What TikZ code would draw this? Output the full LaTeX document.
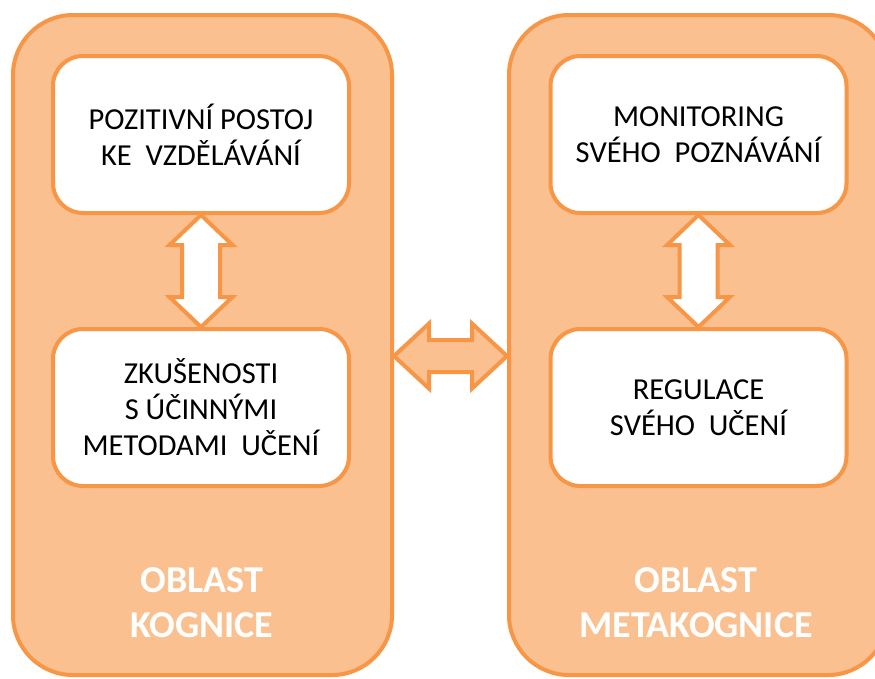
\documentclass[tikz,border=0pt]{standalone}
\usepackage{fontspec}
\setmainfont{Carlito}
\usetikzlibrary{calc}
\definecolor{oborder}{HTML}{F79646}
\definecolor{ofill}{HTML}{FAC090}
\tikzset{
  area/.style={draw=oborder, fill=ofill, line width=4pt, rounded corners=60pt,
    minimum width=379pt, minimum height=660pt},
  item/.style={draw=oborder, fill=white, line width=4pt, rounded corners=30pt,
    minimum width=296pt, minimum height=157pt, align=center,
    font=\fontsize{30.5}{36}\selectfont},
  arealabel/.style={text=white, align=center, font=\fontsize{38}{45}\selectfont\bfseries},
  varrow/.style={draw=oborder, fill=white, line width=4pt},
  harrow/.style={draw=oborder, fill=ofill, line width=4pt}
}
\begin{document}
\begin{tikzpicture}[x=1pt,y=-1pt]
\useasboundingbox (0,0) rectangle (875,678);
\clip (0,0) rectangle (875,678);
\node[area] (kog) at (202.5,345) {};
\node[area] (meta) at (698.5,345) {};
\node[item] (pos) at (201,134.5) {POZITIVNÍ POSTOJ\\KE\ \ VZDĚLÁVÁNÍ};
\node[item] (zk) at (201,407.5) {ZKUŠENOSTI\\S ÚČINNÝMI\\METODAMI\ \ UČENÍ};
\node[item] (mon) at (698.5,134.5) {MONITORING\\SVÉHO\ \ POZNÁVÁNÍ};
\node[item] (reg) at (698.5,407.5) {REGULACE\\SVÉHO\ \ UČENÍ};
\node[arealabel] (kogl) at (202,603) {OBLAST\\KOGNICE};
\node[arealabel] (metal) at (696,603) {OBLAST\\METAKOGNICE};
\draw[varrow] let \p1=(pos.south), \p2=(zk.north) in
  (\x1,\y1) -- (\x1+31.5pt,\y1-30pt) -- (\x1+19pt,\y1-30pt) -- (\x1+19pt,\y2+30pt)
  -- (\x1+31.5pt,\y2+30pt) -- (\x1,\y2) -- (\x1-31.5pt,\y2+30pt) -- (\x1-19pt,\y2+30pt)
  -- (\x1-19pt,\y1-30pt) -- (\x1-31.5pt,\y1-30pt) -- cycle;
\draw[varrow] let \p1=(mon.south), \p2=(reg.north) in
  (\x1,\y1) -- (\x1+31.5pt,\y1-30pt) -- (\x1+19pt,\y1-30pt) -- (\x1+19pt,\y2+30pt)
  -- (\x1+31.5pt,\y2+30pt) -- (\x1,\y2) -- (\x1-31.5pt,\y2+30pt) -- (\x1-19pt,\y2+30pt)
  -- (\x1-19pt,\y1-30pt) -- (\x1-31.5pt,\y1-30pt) -- cycle;
\draw[harrow] let \p1=($(kog.east)+(0,11)$), \p2=($(meta.west)+(0,11)$) in
  (\x1,\y1) -- (\x1+35pt,\y1+32.5pt) -- (\x1+35pt,\y1+16pt) -- (\x2-35pt,\y1+16pt)
  -- (\x2-35pt,\y1+32.5pt) -- (\x2,\y1) -- (\x2-35pt,\y1-32.5pt) -- (\x2-35pt,\y1-16pt)
  -- (\x1+35pt,\y1-16pt) -- (\x1+35pt,\y1-32.5pt) -- cycle;
\end{tikzpicture}
\end{document}
